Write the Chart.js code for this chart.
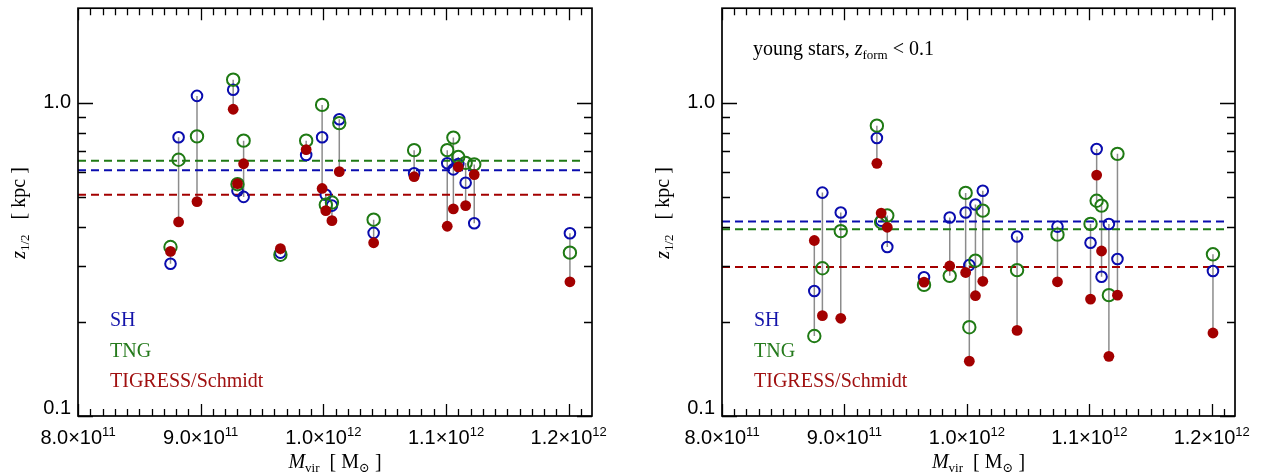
<!DOCTYPE html>
<html>
<head>
<meta charset="utf-8">
<script src="https://cdn.jsdelivr.net/npm/chart.js@4.4.0/dist/chart.umd.min.js"></script>
<style>
html, body { margin: 0; padding: 0; background: #fff; }
#wrap { position: relative; width: 1269px; height: 476px; }
.panel { position: absolute; top: 0; height: 476px; }
#left { left: 0; width: 640px; }
#right { left: 640px; width: 629px; }
</style>
</head>
<body>
<div id="wrap">
  <div class="panel" id="left"><canvas id="allStars" width="640" height="476"></canvas></div>
  <div class="panel" id="right"><canvas id="youngStars" width="629" height="476"></canvas></div>
</div>
<script>
// halo masses (Msun), same halos in both panels
const mvir = [0.8754e12, 0.882e12, 0.897e12, 0.9265e12, 0.930e12, 0.935e12, 0.965e12, 0.986e12, 0.999e12, 1.002e12,
              1.007e12, 1.013e12, 1.041e12, 1.074e12, 1.101e12, 1.106e12, 1.110e12, 1.116e12, 1.123e12, 1.201e12];

// z_1/2 [kpc], all stars
const allSH  = [0.306, 0.775, 1.05, 1.099, 0.523, 0.500, 0.332, 0.680, 0.775, 0.508, 0.469, 0.885, 0.384, 0.595, 0.640, 0.612, 0.637, 0.555, 0.412, 0.383];
const allTNG = [0.346, 0.657, 0.780, 1.183, 0.549, 0.756, 0.327, 0.756, 0.983, 0.472, 0.480, 0.860, 0.423, 0.705, 0.705, 0.773, 0.670, 0.642, 0.635, 0.332];
const allTIG = [0.335, 0.416, 0.483, 0.952, 0.551, 0.638, 0.342, 0.708, 0.532, 0.452, 0.420, 0.602, 0.357, 0.580, 0.403, 0.458, 0.623, 0.469, 0.589, 0.268];
const allMeans = [0.608, 0.652, 0.508]; // SH, TNG, TIGRESS

// z_1/2 [kpc], young stars (z_form < 0.1)
const youngSH  = [0.2505, 0.516, 0.446, 0.771, 0.420, 0.346, 0.277, 0.430, 0.446, 0.303, 0.473, 0.523, 0.374, 0.402, 0.357, 0.711, 0.278, 0.410, 0.317, 0.290];
const youngTNG = [0.180, 0.296, 0.389, 0.844, 0.415, 0.436, 0.262, 0.280, 0.515, 0.192, 0.313, 0.452, 0.292, 0.379, 0.410, 0.486, 0.469, 0.243, 0.686, 0.328];
const youngTIG = [0.363, 0.209, 0.205, 0.640, 0.444, 0.400, 0.2675, 0.301, 0.287, 0.1496, 0.242, 0.269, 0.1875, 0.268, 0.236, 0.587, 0.336, 0.155, 0.243, 0.184];
const youngMeans = [0.417, 0.394, 0.299];

const seriesNames = ['SH', 'TNG', 'TIGRESS/Schmidt'];
const yTickLabels = ['0.1', '1.0'];
const xTickLabels = [['8.0', '11'], ['9.0', '11'], ['1.0', '12'], ['1.1', '12'], ['1.2', '12']];

const BLUE = '#0a0cae';
const GREEN = '#1f7a14';
const RED = '#a30000';
const SERIF = '"Liberation Serif", "DejaVu Serif", serif';
const SANS = '"Liberation Sans", Arial, sans-serif';

// text with sub/superscripts
function drawRich(ctx, parts, x, y, align) {
    let w = 0;
    parts.forEach(p => { ctx.font = p.font; p.w = ctx.measureText(p.t).width; w += p.w; });
    let cx = align === 'center' ? x - w / 2 : x;
    parts.forEach(p => {
        ctx.font = p.font;
        ctx.fillText(p.t, cx, y + (p.dy || 0));
        cx += p.w;
    });
}

// frame with inward ticks, tick labels, axis titles and text legend
const framePlugin = {
    id: 'frame',
    afterDatasetsDraw(chart, args, opts) {
        const { ctx, chartArea: a, scales: { x, y } } = chart;
        ctx.save();
        ctx.strokeStyle = '#000';
        ctx.fillStyle = '#000';
        ctx.lineWidth = 1.7;
        ctx.strokeRect(a.left, a.top, a.right - a.left, a.bottom - a.top);

        ctx.lineWidth = 1.3;
        ctx.beginPath();
        // x ticks every 1e10
        for (let i = 80; i <= 121; i++) {
            const px = Math.round(x.getPixelForValue(i * 1e10)) + 0.5;
            if (px > a.right) break;
            const len = i % 10 === 0 ? 12 : 7;
            ctx.moveTo(px, a.bottom); ctx.lineTo(px, a.bottom - len);
            ctx.moveTo(px, a.top); ctx.lineTo(px, a.top + len);
        }
        // y ticks, log
        [0.1, 1].forEach(d => {
            for (let k = 1; k <= 9; k++) {
                const v = k * d;
                if (v > 1.99) break;
                const py = Math.round(y.getPixelForValue(v)) + 0.5;
                const len = k === 1 ? 15 : 8;
                ctx.moveTo(a.left, py); ctx.lineTo(a.left + len, py);
                ctx.moveTo(a.right, py); ctx.lineTo(a.right - len, py);
            }
        });
        ctx.stroke();

        // y tick labels
        ctx.font = '20px ' + SANS;
        ctx.textAlign = 'right';
        ctx.textBaseline = 'middle';
        yTickLabels.forEach(t => {
            let py = y.getPixelForValue(parseFloat(t));
            py = Math.min(py, a.bottom - 8);
            ctx.fillText(t, a.left - 7, py);
        });

        // x tick labels with exponent
        ctx.textAlign = 'left';
        ctx.textBaseline = 'alphabetic';
        xTickLabels.forEach(([m, e]) => {
            const v = parseFloat(m) * Math.pow(10, parseInt(e));
            const px = x.getPixelForValue(v);
            drawRich(ctx, [
                { t: m + '\u00d710', font: '20px ' + SANS },
                { t: e, font: '13px ' + SANS, dy: -8 }
            ], px, 444, 'center');
        });

        // x title
        const cxm = (a.left + a.right) / 2;
        drawRich(ctx, [
            { t: 'M', font: 'italic 20px ' + SERIF },
            { t: 'vir', font: '13px ' + SERIF, dy: 4 },
            { t: '  [ M', font: '20px ' + SERIF },
            { t: '\u2299', font: '13px ' + SERIF, dy: 4 },
            { t: ' ]', font: '20px ' + SERIF }
        ], cxm, 468, 'center');

        // y title, rotated
        ctx.save();
        ctx.translate(a.left - 53, 213);
        ctx.rotate(-Math.PI / 2);
        drawRich(ctx, [
            { t: 'z', font: 'italic 20px ' + SERIF },
            { t: '1/2', font: '13px ' + SERIF, dy: 4 },
            { t: '   [ kpc ]', font: '20px ' + SERIF }
        ], 0, 0, 'center');
        ctx.restore();

        // panel note
        if (opts.note) {
            drawRich(ctx, [
                { t: 'young stars, ', font: '20px ' + SERIF },
                { t: 'z', font: 'italic 20px ' + SERIF },
                { t: 'form', font: '13px ' + SERIF, dy: 4 },
                { t: ' < 0.1', font: '20px ' + SERIF }
            ], a.left + 31, 55, 'left');
        }

        // text legend
        const cols = ['#1414aa', '#257a1c', '#a01010'];
        ctx.font = '20px ' + SERIF;
        seriesNames.forEach((n, i) => {
            ctx.fillStyle = cols[i];
            ctx.fillText(n, a.left + 32, 326 + i * 30.5);
        });
        ctx.restore();
    }
};

function buildDatasets(sh, tng, tig, means) {
    const stems = [];
    mvir.forEach((m, i) => {
        const vals = [sh[i], tng[i], tig[i]];
        stems.push({ x: m, y: Math.min(...vals) }, { x: m, y: Math.max(...vals) }, { x: m, y: null });
    });
    const pts = arr => arr.map((v, i) => ({ x: mvir[i], y: v }));
    const meanLine = (v, c, o) => ({
        type: 'line', data: [{ x: 8e11, y: v }, { x: 1.2125e12, y: v }],
        borderColor: c, borderWidth: 2, borderDash: [8, 5], pointRadius: 0, order: o
    });
    return [
        { type: 'scatter', data: pts(tig), pointRadius: 5.4, borderWidth: 0, backgroundColor: RED, borderColor: RED, order: 1 },
        { type: 'scatter', data: pts(tng), pointRadius: 6.2, borderWidth: 2, borderColor: GREEN, backgroundColor: 'rgba(0,0,0,0)', order: 2 },
        { type: 'scatter', data: pts(sh), pointRadius: 5.3, borderWidth: 2, borderColor: BLUE, backgroundColor: 'rgba(0,0,0,0)', order: 3 },
        meanLine(means[0], BLUE, 4),
        meanLine(means[1], GREEN, 4),
        meanLine(means[2], RED, 4),
        { type: 'line', data: stems, borderColor: '#8c8c8c', borderWidth: 1.5, pointRadius: 0, spanGaps: false, order: 5 }
    ];
}

function makeChart(id, sh, tng, tig, means, pad, note) {
    return new Chart(document.getElementById(id), {
        type: 'scatter',
        data: { datasets: buildDatasets(sh, tng, tig, means) },
        options: {
            responsive: false,
            animation: false,
            layout: { padding: pad },
            plugins: {
                legend: { display: false },
                tooltip: { enabled: false },
                frame: { note: note }
            },
            scales: {
                x: { type: 'linear', min: 8e11, max: 1.219e12, display: false },
                y: { type: 'logarithmic', min: 0.1, max: 2.0, display: false }
            }
        },
        plugins: [framePlugin]
    });
}

makeChart('allStars', allSH, allTNG, allTIG, allMeans, { left: 78, right: 48, top: 5, bottom: 60 }, false);
makeChart('youngStars', youngSH, youngTNG, youngTIG, youngMeans, { left: 82, right: 34, top: 5, bottom: 60 }, true);
</script>
</body>
</html>
